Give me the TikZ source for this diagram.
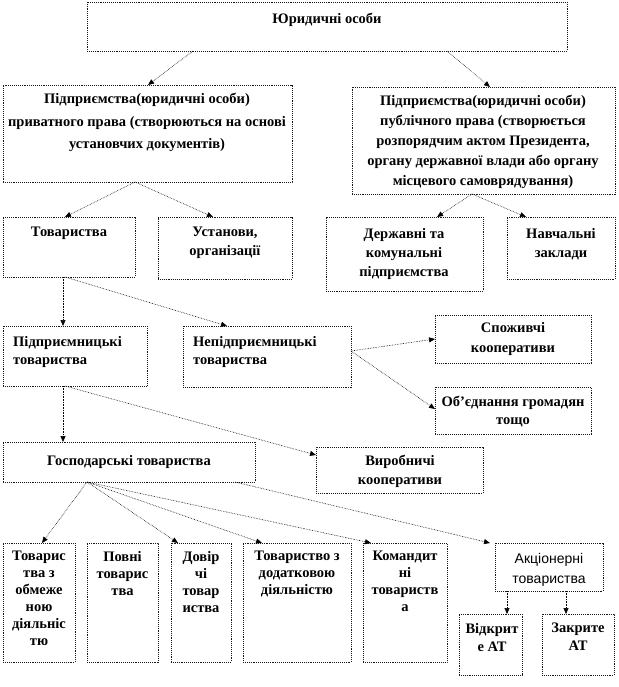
\documentclass[tikz,border=0pt]{standalone}
\usepackage{fontspec}
\setmainfont{Liberation Serif}
\newfontfamily\sansfam{Liberation Sans}
\usetikzlibrary{arrows.meta}
\begin{document}
\begin{tikzpicture}[x=1pt,y=-1pt,
  box/.style={draw=black!90, densely dotted, line width=0.9pt, inner sep=0pt, outer sep=0pt, anchor=north west},
  txt/.style={inner sep=0pt, anchor=north, align=center, font=\bfseries\fontsize{14.5}{#1}\selectfont},
  txt/.default=17,
  ltxt/.style={inner sep=0pt, anchor=north west, align=left, font=\bfseries\fontsize{14.5}{#1}\selectfont},
  ltxt/.default=18,
  stxt/.style={inner sep=0pt, anchor=north, align=center, font=\sansfam\fontsize{14}{#1}\selectfont},
  stxt/.default=20,
  conn/.style={densely dotted, line width=0.6pt, draw=black, -{Triangle[length=6pt,width=5pt]}}]
\useasboundingbox (0,0) rectangle (618,687);
% boxes
\node[box, minimum width=480pt, minimum height=49pt] (top) at (87,2) {};
\node[box, minimum width=289pt, minimum height=97pt] (priv) at (3,85) {};
\node[box, minimum width=263pt, minimum height=107pt] (pub) at (352,87) {};
\node[box, minimum width=132pt, minimum height=60pt] (tov) at (3,217) {};
\node[box, minimum width=134pt, minimum height=62pt] (ust) at (158,217) {};
\node[box, minimum width=157pt, minimum height=74pt] (derzh) at (326,217) {};
\node[box, minimum width=108pt, minimum height=62pt] (navch) at (507,217) {};
\node[box, minimum width=144pt, minimum height=60pt] (pidp) at (3,326) {};
\node[box, minimum width=168pt, minimum height=61pt] (nep) at (183,326) {};
\node[box, minimum width=156pt, minimum height=48pt] (spo) at (435,315) {};
\node[box, minimum width=156pt, minimum height=47pt] (obj) at (435,387) {};
\node[box, minimum width=252pt, minimum height=40pt] (gosp) at (3,442) {};
\node[box, minimum width=167pt, minimum height=46pt] (vyr) at (316,447) {};
\node[box, minimum width=72pt, minimum height=119pt] (b1) at (3,543) {};
\node[box, minimum width=71pt, minimum height=119pt] (b2) at (87,543) {};
\node[box, minimum width=60pt, minimum height=119pt] (b3) at (171,543) {};
\node[box, minimum width=108pt, minimum height=119pt] (b4) at (243,543) {};
\node[box, minimum width=84pt, minimum height=119pt] (kom) at (363,543) {};
\node[box, minimum width=108pt, minimum height=48pt] (akc) at (495,543) {};
\node[box, minimum width=63pt, minimum height=61pt] (vid) at (459,614) {};
\node[box, minimum width=72pt, minimum height=61pt] (zak) at (542,614) {};
% texts
\node[txt] (top-t) at (327,13) {Юридичні особи};
\node[txt=22.5] (priv-t) at (147,93) {Підприємства(юридичні  особи)\\приватного права (створюються на основі\\установчих документів)};
\node[txt=20] (pub-t) at (483,95) {Підприємства(юридичні  особи)\\публічного права (створюється\\розпорядчим актом Президента,\\органу державної влади або органу\\місцевого самоврядування)};
\node[txt] (tov-t) at (69,227) {Товариства};
\node[txt=19] (ust-t) at (225,227) {Установи,\\організації};
\node[txt=19] (derzh-t) at (404,228) {Державні та\\комунальні\\підприємства};
\node[txt=19] (navch-t) at (561,228) {Навчальні\\заклади};
\node[ltxt] (pidp-t) at (13,336) {Підприємницькі\\товариства};
\node[ltxt] (nep-t) at (193,336) {Непідприємницькі\\товариства};
\node[txt=20] (spo-t) at (513,322) {Споживчі\\кооперативи};
\node[txt=18] (obj-t) at (513,396) {Об’єднання громадян\\тощо};
\node[txt] (gosp-t) at (129,455) {Господарські товариства};
\node[txt=19] (vyr-t) at (400,455) {Виробничі\\кооперативи};
\node[txt] (b1-t) at (39,551) {Товарис\\тва з\\обмеже\\ною\\діяльніс\\тю};
\node[txt] (b2-t) at (122.5,551) {Повні\\товарис\\тва};
\node[txt] (b3-t) at (201,551) {Довір\\чі\\товар\\иства};
\node[txt] (b4-t) at (297,551) {Товариство з\\додатковою\\діяльністю};
\node[txt] (kom-t) at (405,551) {Командит\\ні\\товариств\\а};
\node[stxt] (akc-t) at (549,553) {Акціонерні\\товариства};
\node[txt=18] (vid-t) at (492,623) {Відкрит\\е АТ};
\node[txt=18] (zak-t) at (578,623) {Закрите\\АТ};
% connectors
\draw[conn] ([xshift=106pt]top.south west) -- ([xshift=145pt]priv.north west);
\draw[conn] ([xshift=360pt]top.south west) -- ([xshift=138pt]pub.north west);
\draw[conn] ([xshift=132pt]priv.south west) -- ([xshift=62pt]tov.north west);
\draw[conn] ([xshift=132pt]priv.south west) -- ([xshift=55pt]ust.north west);
\draw[conn] ([xshift=120pt]pub.south west) -- ([xshift=111pt]derzh.north west);
\draw[conn] ([xshift=120pt]pub.south west) -- ([xshift=19pt]navch.north west);
\draw[conn] ([xshift=60pt]tov.south west) -- ([xshift=60pt]pidp.north west);
\draw[conn] ([xshift=62pt]tov.south west) -- ([xshift=44pt]nep.north west);
\draw[conn] ([yshift=-25pt]nep.north east) -- ([yshift=-24pt]spo.north west);
\draw[conn] ([yshift=-25pt]nep.north east) -- ([yshift=-22pt]obj.north west);
\draw[conn] ([xshift=60pt]pidp.south west) -- ([xshift=60pt]gosp.north west);
\draw[conn] ([xshift=62pt]pidp.south west) -- ([yshift=-8pt]vyr.north west);
\draw[conn] ([xshift=84pt]gosp.south west) -- ([xshift=39pt]b1.north west);
\draw[conn] ([xshift=84pt]gosp.south west) -- ([xshift=7pt]b3.north west);
\draw[conn] ([xshift=84pt]gosp.south west) -- ([xshift=19pt]b4.north west);
\draw[conn] ([xshift=84pt]gosp.south west) -- ([xshift=8pt]kom.north west);
\draw[conn] ([xshift=232pt]gosp.south west) -- ([xshift=-5pt]akc.north west);
\draw[conn] ([xshift=12pt]akc.south west) -- ([xshift=48pt]vid.north west);
\draw[conn] ([xshift=71pt]akc.south west) -- ([xshift=24pt]zak.north west);
\end{tikzpicture}
\end{document}
